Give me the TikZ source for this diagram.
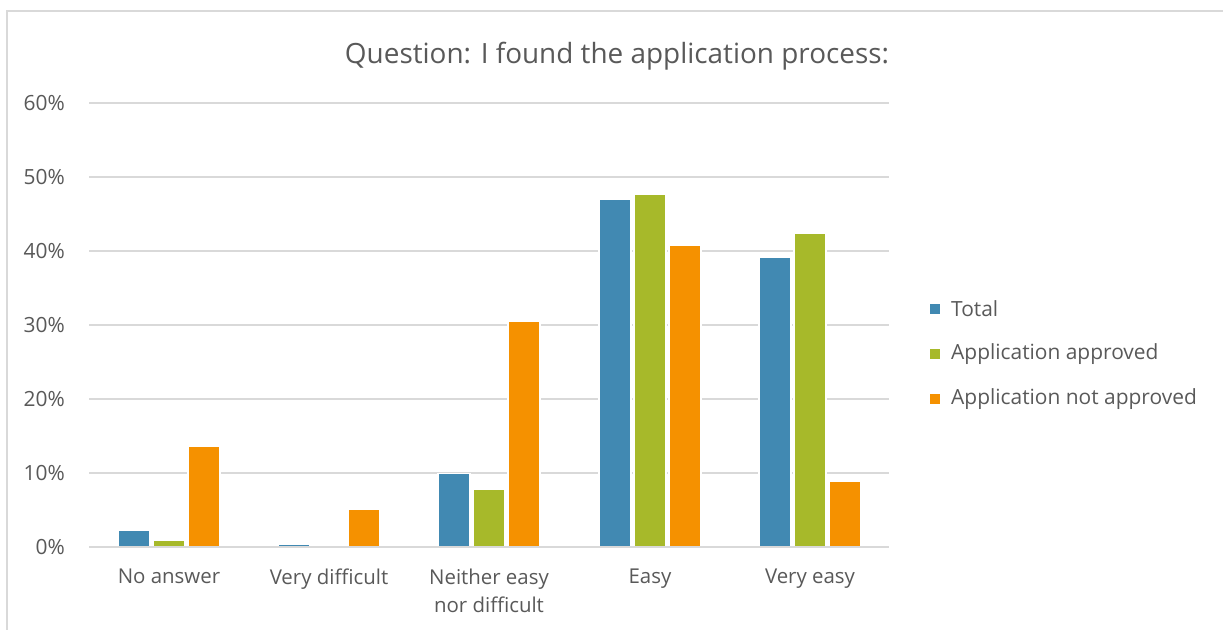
\documentclass[tikz,border=0pt]{standalone}
\usepackage{fontspec}
\setmainfont{Open Sans}
\definecolor{cTot}{RGB}{65,137,178}
\definecolor{cApp}{RGB}{167,185,42}
\definecolor{cNot}{RGB}{245,145,0}
\definecolor{gridc}{RGB}{217,217,217}
\definecolor{txtc}{RGB}{89,89,89}
\tikzset{
  gridline/.style={draw=gridc, line width=1.8bp},
  ylab/.style={anchor=east, text=txtc, font=\fontsize{21}{24}\selectfont, inner sep=0pt},
  xlab/.style={anchor=north, text=txtc, font=\fontsize{20.5}{28}\selectfont, align=center, inner sep=0pt},
  leglab/.style={anchor=west, text=txtc, font=\fontsize{21}{24}\selectfont, inner sep=0pt},
  bar/.style={draw=white, line width=1.2bp},
  titlestyle/.style={text=txtc, font=\fontsize{28}{32}\selectfont, inner sep=0pt}
}
\begin{document}
\begin{tikzpicture}[x=1bp,y=-1bp]
\useasboundingbox (0,0) rectangle (1223,630);
\fill[white] (0,0) rectangle (1223,630);
\draw[gridc, line width=2bp] (7,630) -- (7,11) -- (1223,11);
\node[titlestyle] (title) at (617,56) {Question: I found the application process:};
\foreach \v in {10,20,30,40,50,60} {
  \draw[gridline] (89,{547-7.4*\v}) -- (889,{547-7.4*\v});
}
\foreach \v in {0,10,20,30,40,50,60} {
  \node[ylab] (y\v) at (65,{547-7.4*\v}) {\v\%};
}
\foreach \c/\a/\b/\d in {169/2.2/0.95/13.6, 329/0.3/0.001/5.1, 489/9.9/7.8/30.5, 650/47.0/47.6/40.7, 810/39.2/42.4/8.9} {
  \path[bar, fill=cTot] ({\c-51},547) rectangle ({\c-19},{547-7.4*\a});
  \path[bar, fill=cApp] ({\c-16},547) rectangle ({\c+16},{547-7.4*\b});
  \path[bar, fill=cNot] ({\c+19},547) rectangle ({\c+51},{547-7.4*\d});
}
\draw[gridline] (89,547) -- (889,547);
\node[xlab] (c1) at (169,569) {No answer};
\node[xlab] (c2) at (329,569) {Very difficult};
\node[xlab] (c3) at (489,569) {Neither easy\\nor difficult};
\node[xlab] (c4) at (650,569) {Easy};
\node[xlab] (c5) at (810,569) {Very easy};
\fill[cTot] (930,304) rectangle (940,314);
\node[leglab] (l1) at (951,309) {Total};
\fill[cApp] (930,349) rectangle (940,359);
\node[leglab] (l2) at (951,354) {Application approved};
\fill[cNot] (930,394) rectangle (940,404);
\node[leglab] (l3) at (951,399) {Application not approved};
\end{tikzpicture}
\end{document}
